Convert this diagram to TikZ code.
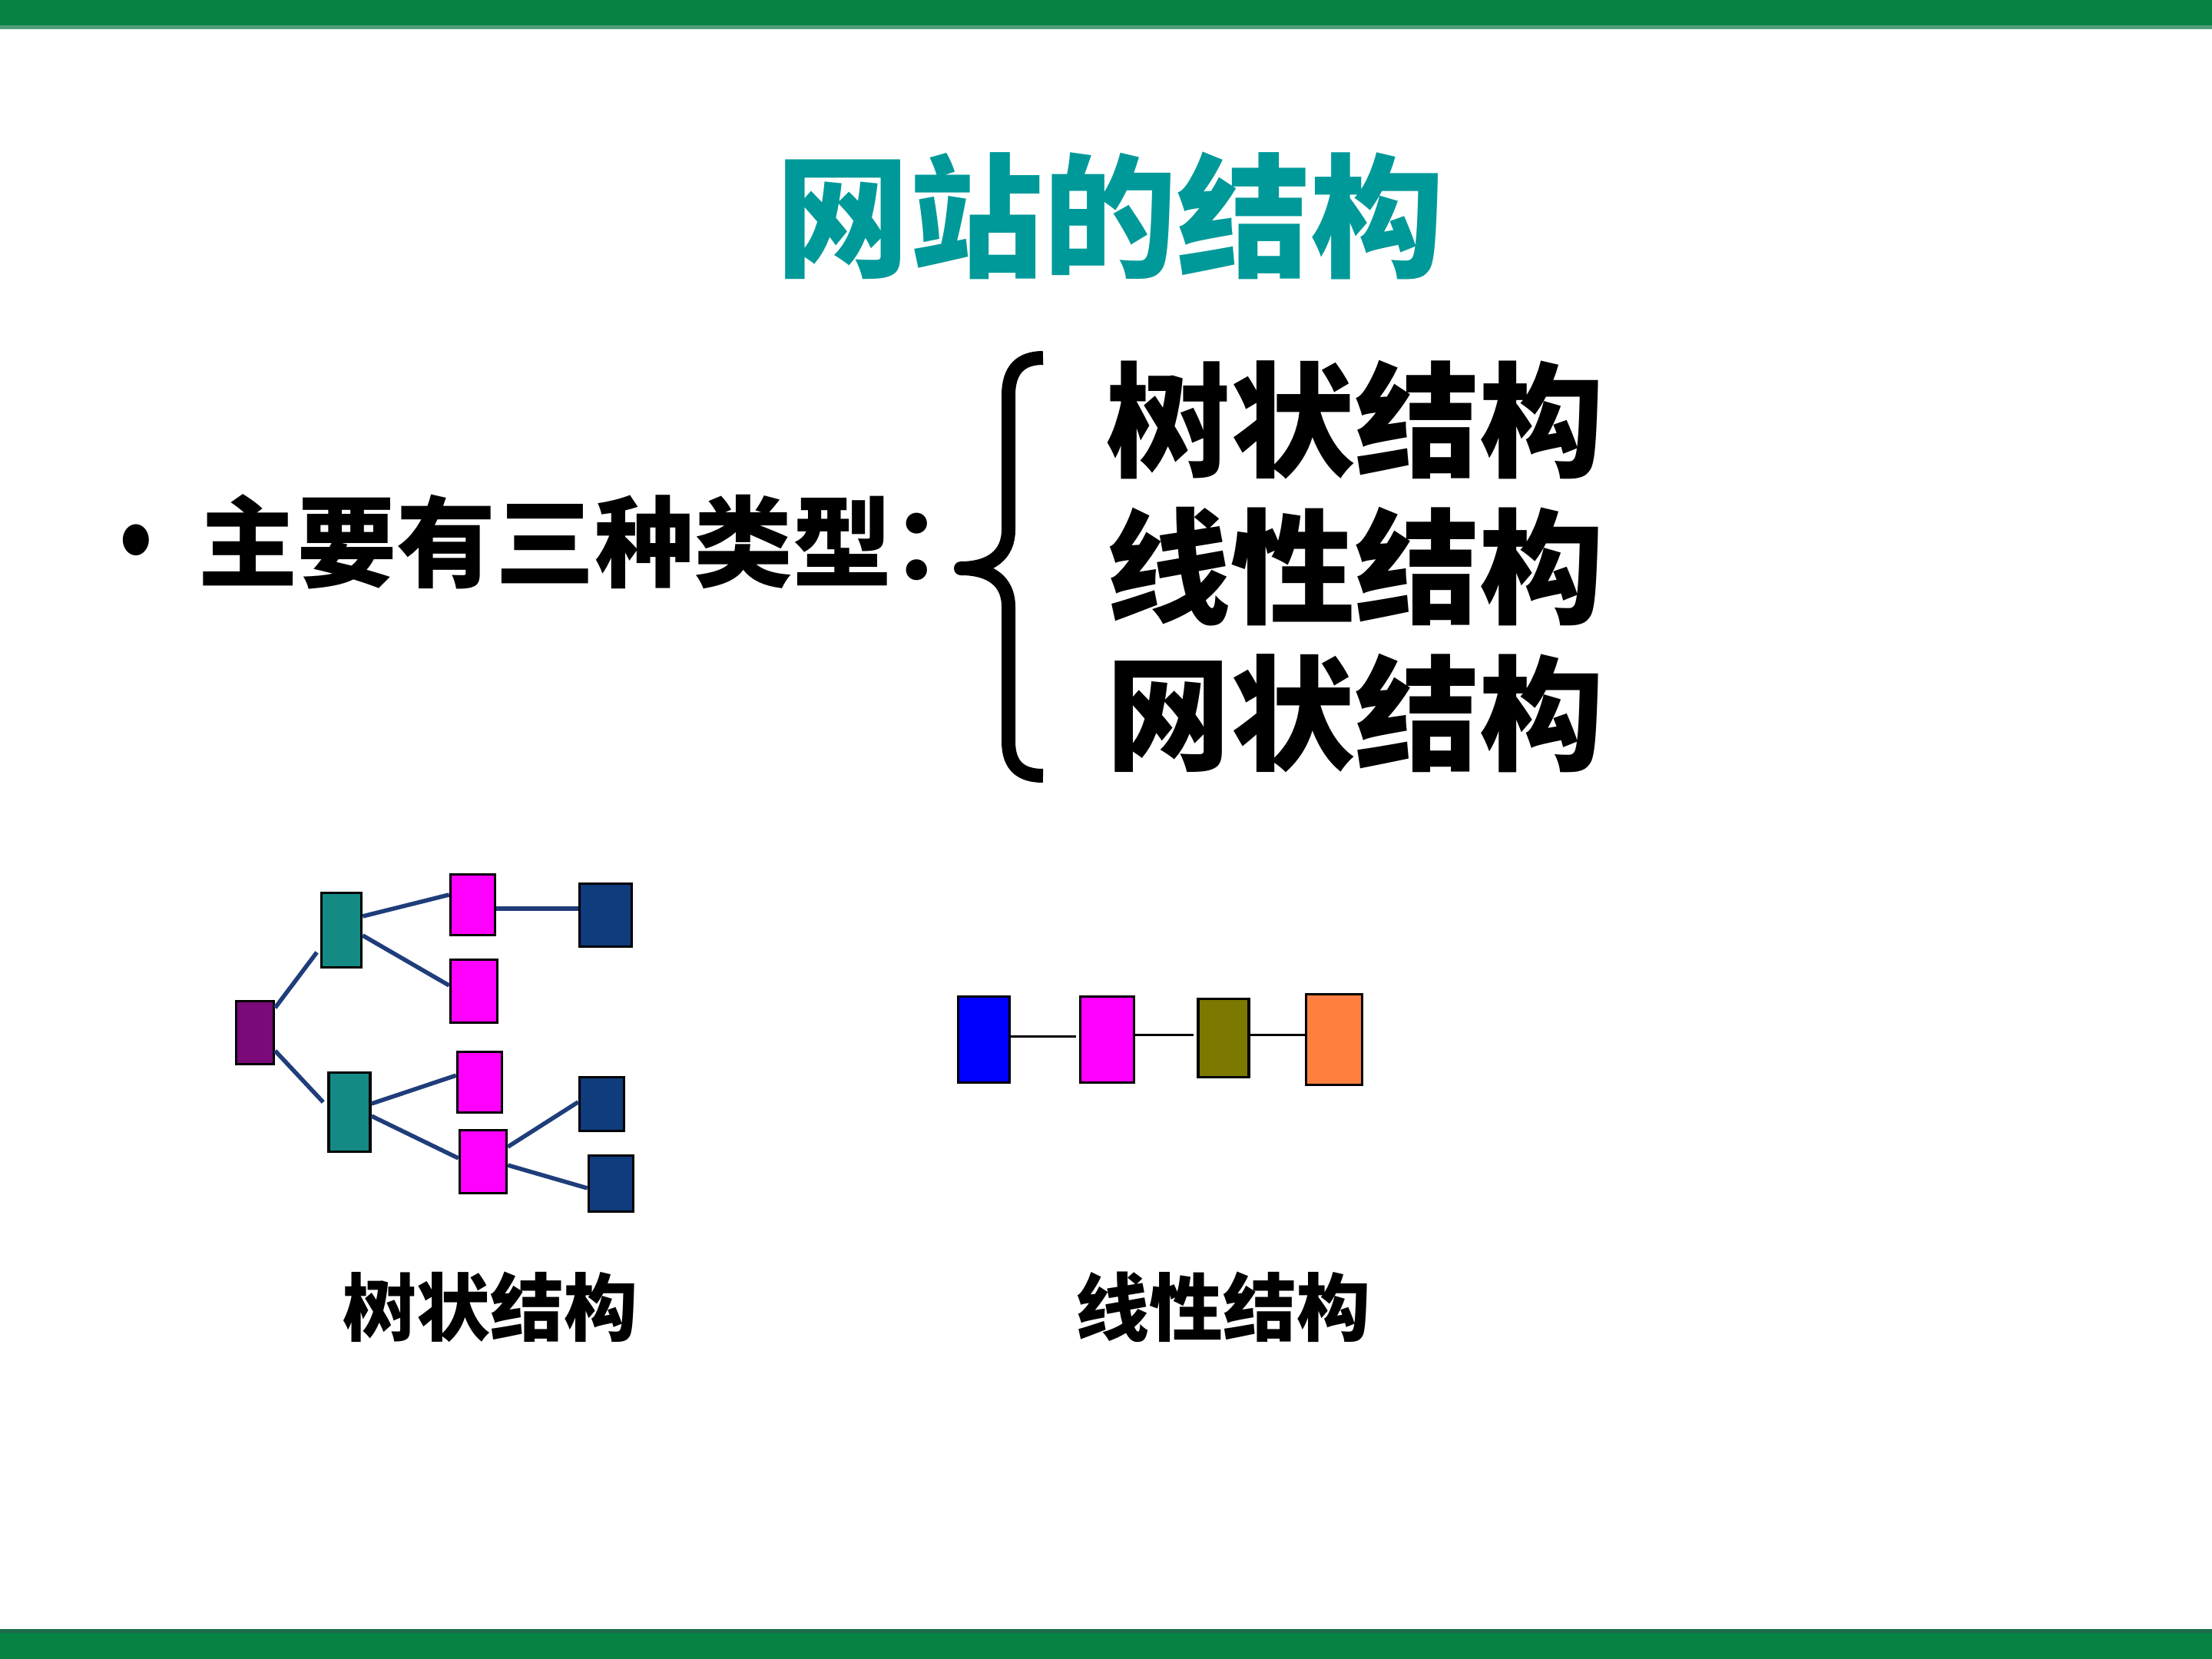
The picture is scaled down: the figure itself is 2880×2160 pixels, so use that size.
\documentclass[tikz,border=0pt]{standalone}
\usepackage{fontspec}
\newfontfamily\cjk{Noto Sans CJK SC}
\definecolor{bargreen}{HTML}{068243}
\definecolor{barstrip}{HTML}{4E9E7A}
\definecolor{bardark}{HTML}{1D6B4B}
\definecolor{titleteal}{HTML}{009999}
\definecolor{linkblue}{HTML}{1F3D7A}
\definecolor{tpurple}{HTML}{7A0A7A}
\definecolor{tteal}{HTML}{138A84}
\definecolor{tmagenta}{HTML}{FF00FF}
\definecolor{tnavy}{HTML}{0E3C7C}
\definecolor{lblue}{HTML}{0000FF}
\definecolor{lolive}{HTML}{7C7800}
\definecolor{lorange}{HTML}{FF7F40}
\tikzset{
  box/.style={draw=black, fill=#1, line width=0.35mm, inner sep=0pt},
  link/.style={draw=linkblue, line width=0.55mm},
  chainlink/.style={draw=black, line width=0.3mm},
  headline/.style={font=\cjk\bfseries\fontsize{17.4mm}{20mm}\selectfont, text=titleteal, inner sep=0pt},
  lead/.style={font=\cjk\bfseries\fontsize{12.9mm}{15mm}\selectfont, inner sep=0pt, anchor=west},
  kind/.style={font=\cjk\bfseries\fontsize{16.2mm}{19mm}\selectfont, inner sep=0pt, anchor=west},
  figcap/.style={font=\cjk\bfseries\fontsize{9.6mm}{11mm}\selectfont, inner sep=0pt}
}
\begin{document}
\begin{tikzpicture}[x=0.1mm, y=-0.1mm]
  \useasboundingbox (0,0) rectangle (2880,2160);
  \fill[white] (0,0) rectangle (2880,2160);
  % green bars
  \fill[bargreen] (0,0) rectangle (2880,33);
  \fill[barstrip] (0,33) rectangle (2880,38);
  \fill[bargreen] (0,2121) rectangle (2880,2160);
  \fill[bardark] (0,2121) rectangle (2880,2126);

  \node[headline] (title) at (1445,281) {网站的结构};
  \node[inner sep=0pt, font=\fontsize{10.5mm}{12mm}\selectfont] (dot) at (177,706) {\scalebox{1}[1.2]{$\bullet$}};
  \node[lead] (lead) at (258,705) {主要有三种类型：};

  % brace
  \draw[line width=1.8mm, line join=round] (1358,466) .. controls (1330,466) and (1313,480) .. (1313,515)
    -- (1313,690) .. controls (1313,722) and (1290,740) .. (1251,740)
    .. controls (1290,740) and (1313,757) .. (1313,790)
    -- (1313,965) .. controls (1313,998) and (1330,1010) .. (1358,1010);

  \foreach \t [count=\i] in {树状结构,线性结构,网状结构}
    \node[kind] (kind\i) at (1440,{547+191*(\i-1)}) {\t};

  % tree
  \foreach \n/\x/\y/\w/\h/\c in {
    root/332/1344.5/4.9/8.2/tpurple,
    teal1/444.5/1211/5.2/9.7/tteal,
    teal2/455/1448/5.4/10.3/tteal,
    mag1/615.5/1178/5.8/7.9/tmagenta,
    mag2/617/1290.5/6.1/8.2/tmagenta,
    mag3/624.5/1409/5.8/7.9/tmagenta,
    mag4/629/1512.5/6.1/8.2/tmagenta,
    navy1/788.5/1191.5/6.8/8.2/tnavy,
    navy2/783.5/1437.5/5.8/7.0/tnavy,
    navy3/795.5/1541/5.8/7.3/tnavy}
    \node[box=\c, minimum width=\w mm, minimum height=\h mm] (\n) at (\x,\y) {};
  \draw[link, shorten >=0.7mm] (root.51) -- (teal1.220);
  \draw[link, shorten >=0.8mm] (root.-42) -- (teal2.166);
  \foreach \a/\b in {teal1.33/mag1.157, teal1.-14/mag2.167, teal2.21/mag3.164,
    teal2.-10/mag4.172, mag4.31/navy2.175, mag4.-8/navy3.191}
    \draw[link] (\a) -- (\b);
  \draw[link] (mag1.-9) -- (mag1.-9 -| navy1.west);
  \node[figcap] (treecap) at (638,1702) {树状结构};

  % linear
  \foreach \n/\x/\y/\w/\h/\c in {
    lin1/1281/1353.5/6.7/11.2/lblue,
    lin2/1441.5/1353.5/7.0/11.2/tmagenta,
    lin3/1593/1351.5/6.6/10.2/lolive,
    lin4/1737/1353.5/7.3/11.8/lorange}
    \node[box=\c, minimum width=\w mm, minimum height=\h mm] (\n) at (\x,\y) {};
  \draw[chainlink, shorten >=0.4mm] (lin1.6) -- (lin1.6 -| lin2.west);
  \draw[chainlink, shorten >=0.4mm] (lin2.10) -- (lin2.10 -| lin3.west);
  \draw[chainlink] (lin3.7) -- (lin3.7 -| lin4.west);
  \node[figcap] (linecap) at (1592,1702) {线性结构};
\end{tikzpicture}
\end{document}
